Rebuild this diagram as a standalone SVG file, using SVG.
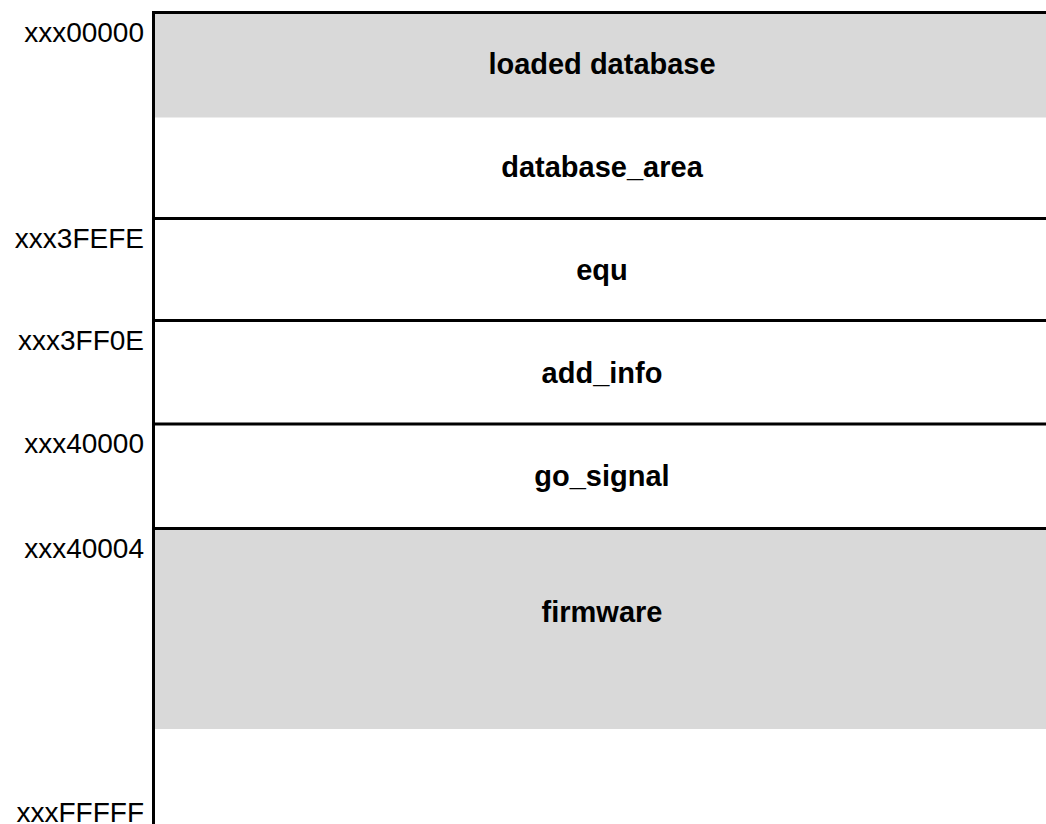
<svg xmlns="http://www.w3.org/2000/svg" width="1046" height="824" viewBox="0 0 1046 824">
  <style>
    .fill { fill: #d9d9d9; }
    .rule { stroke: #000; stroke-width: 3; fill: none; }
    .name { font-family: "Liberation Sans", Arial, sans-serif; font-weight: bold; font-size: 29px; text-anchor: middle; fill: #000; }
    .addr { font-family: "Liberation Sans", Arial, sans-serif; font-size: 28px; text-anchor: end; fill: #000; }
  </style>
  <rect width="1046" height="824" fill="#fff"/>

  <!-- shaded regions -->
  <rect class="fill" x="155" y="14" width="891" height="103.5"/>
  <rect class="fill" x="155" y="530" width="891" height="199"/>

  <!-- region boundaries -->
  <g id="connectors">
    <line class="rule" x1="153.5" y1="11" x2="153.5" y2="824"/>
    <line class="rule" x1="152" y1="12.5" x2="1046" y2="12.5"/>
    <line class="rule" x1="152" y1="218.5" x2="1046" y2="218.5"/>
    <line class="rule" x1="152" y1="320.5" x2="1046" y2="320.5"/>
    <line class="rule" x1="152" y1="424" x2="1046" y2="424"/>
    <line class="rule" x1="152" y1="528.5" x2="1046" y2="528.5"/>
  </g>

  <!-- region names -->
  <g id="loaded-database"><text class="name" x="602" y="74">loaded database</text></g>
  <g id="database-area"><text class="name" x="602" y="177">database_area</text></g>
  <g id="equ"><text class="name" x="602" y="279.5">equ</text></g>
  <g id="add-info"><text class="name" x="602" y="382.5">add_info</text></g>
  <g id="go-signal"><text class="name" x="602" y="485.5">go_signal</text></g>
  <g id="firmware"><text class="name" x="602" y="622">firmware</text></g>

  <!-- addresses -->
  <g id="addresses">
    <text class="addr" x="144" y="41.5">xxx00000</text>
    <text class="addr" x="144" y="247.5">xxx3FEFE</text>
    <text class="addr" x="144" y="349.5">xxx3FF0E</text>
    <text class="addr" x="144" y="453">xxx40000</text>
    <text class="addr" x="144" y="557.5">xxx40004</text>
    <text class="addr" x="144" y="821.5">xxxFFFFF</text>
  </g>
</svg>
